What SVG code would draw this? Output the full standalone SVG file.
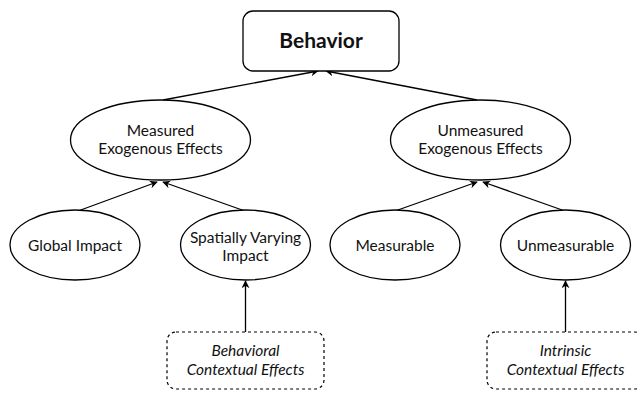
<svg xmlns="http://www.w3.org/2000/svg" width="639" height="395" viewBox="0 0 639 395">
<defs>
<style>
.n{fill:#fff;stroke:#000;stroke-width:1.3}
.d{fill:#fff;stroke:#000;stroke-width:1.2;stroke-dasharray:3 3}
.t{font-family:Lato,"Noto Sans",sans-serif;font-size:15.5px;fill:#111;text-anchor:middle}
.i{font-style:italic}
.b{font-weight:bold;font-size:21px}
.c{stroke:#000;stroke-width:1.3;fill:none;marker-end:url(#ah)}
</style>
<marker id="ah" viewBox="0 0 10 10" refX="9" refY="5" markerWidth="8" markerHeight="8" markerUnits="userSpaceOnUse" orient="auto">
<path d="M0,0 L10,5 L0,10 L3,5 Z" fill="#000"/>
</marker>
</defs>
<rect width="639" height="395" fill="#fff"/>
<g id="connectors">
<line class="c" x1="163" y1="100" x2="318" y2="71"/>
<line class="c" x1="477" y1="100" x2="326" y2="71"/>
<line class="c" x1="78" y1="211" x2="157" y2="182"/>
<line class="c" x1="245" y1="211" x2="163" y2="182"/>
<line class="c" x1="395" y1="211" x2="477" y2="182"/>
<line class="c" x1="565" y1="211" x2="483" y2="182"/>
<line class="c" x1="245.5" y1="332" x2="245.5" y2="281"/>
<line class="c" x1="565.5" y1="332" x2="565.5" y2="281"/>
</g>
<g id="behavior">
<rect class="n" x="243" y="11" width="156" height="60" rx="10"/>
<text class="t b" x="321" y="48">Behavior</text>
</g>
<g id="measured">
<ellipse class="n" cx="160.5" cy="140" rx="90" ry="40"/>
<text class="t" x="160.5" y="136">Measured</text>
<text class="t" x="160.5" y="154">Exogenous Effects</text>
</g>
<g id="unmeasured">
<ellipse class="n" cx="480.5" cy="140" rx="90" ry="40"/>
<text class="t" x="480.5" y="136">Unmeasured</text>
<text class="t" x="480.5" y="154">Exogenous Effects</text>
</g>
<g id="global">
<ellipse class="n" cx="75" cy="245" rx="65" ry="35"/>
<text class="t" x="75" y="251">Global Impact</text>
</g>
<g id="spatial">
<ellipse class="n" cx="245.5" cy="245" rx="65" ry="35"/>
<text class="t" x="245.5" y="243">Spatially Varying</text>
<text class="t" x="245.5" y="261">Impact</text>
</g>
<g id="measurable">
<ellipse class="n" cx="395" cy="245" rx="65" ry="35"/>
<text class="t" x="395" y="251">Measurable</text>
</g>
<g id="unmeasurable">
<ellipse class="n" cx="565.5" cy="245" rx="65" ry="35"/>
<text class="t" x="565.5" y="251">Unmeasurable</text>
</g>
<g id="behavioral">
<rect class="d" x="167" y="332" width="157" height="57" rx="9"/>
<text class="t i" x="245.5" y="356">Behavioral</text>
<text class="t i" x="245.5" y="375">Contextual Effects</text>
</g>
<g id="intrinsic">
<rect class="d" x="487" y="332" width="157" height="57" rx="9"/>
<text class="t i" x="565.5" y="356">Intrinsic</text>
<text class="t i" x="565.5" y="375">Contextual Effects</text>
</g>
</svg>
